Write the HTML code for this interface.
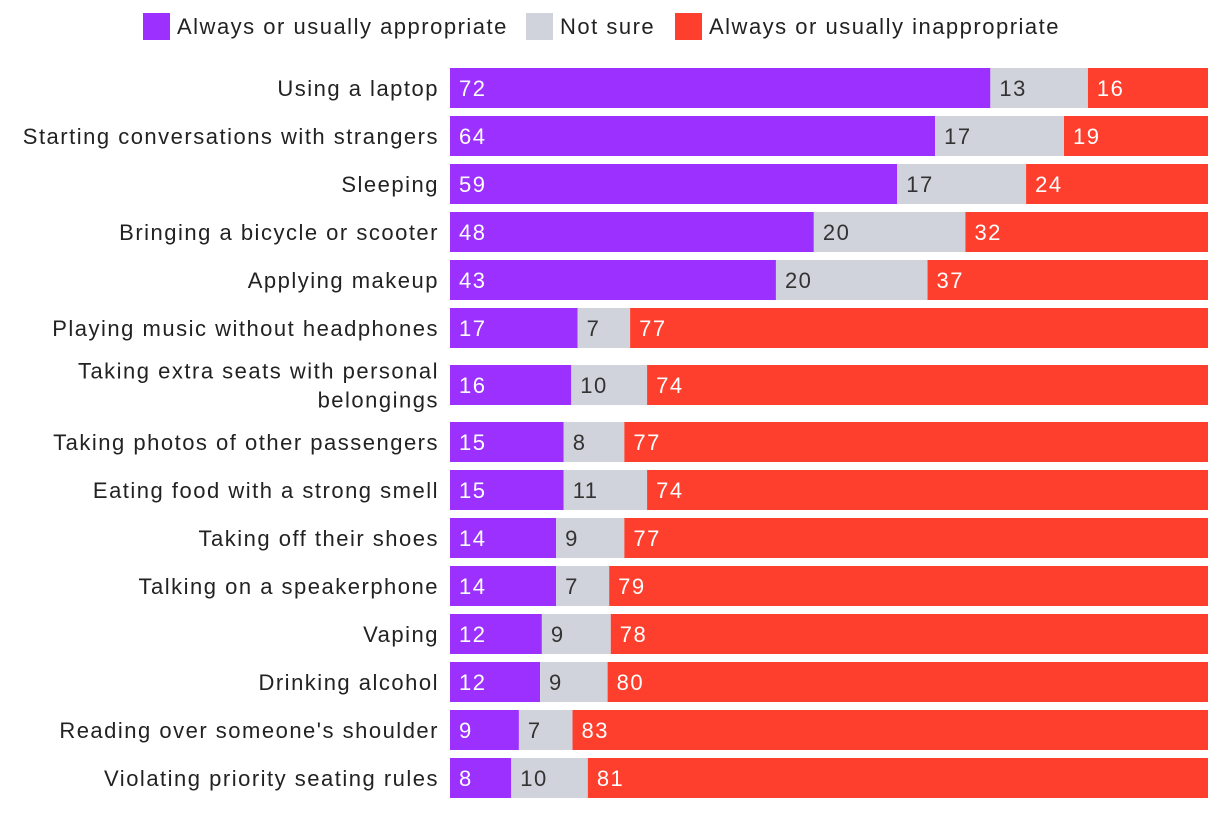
<!DOCTYPE html>
<html><head><meta charset="utf-8"><style>
body{margin:0;background:#fff;width:1220px;height:810px;overflow:hidden;font-family:"Liberation Sans",sans-serif}
svg text{font-family:"Liberation Sans",sans-serif;font-size:22px;letter-spacing:1.5px}
</style></head><body>
<svg id="chart" width="1220" height="810" xmlns="http://www.w3.org/2000/svg">
<g>
<g><rect x="143" y="13" width="27" height="27" fill="#9b30ff"/><text x="177" y="34" fill="#222">Always or usually appropriate</text></g>
<g><rect x="526" y="13" width="27" height="27" fill="#d1d3dc"/><text x="560" y="34" fill="#222">Not sure</text></g>
<g><rect x="675" y="13" width="27" height="27" fill="#ff3f2d"/><text x="709" y="34" fill="#222">Always or usually inappropriate</text></g>
</g>
<g id="bars"></g>
</svg>
<script>
const categories=[["Using a laptop"],["Starting conversations with strangers"],["Sleeping"],["Bringing a bicycle or scooter"],["Applying makeup"],["Playing music without headphones"],["Taking extra seats with personal","belongings"],["Taking photos of other passengers"],["Eating food with a strong smell"],["Taking off their shoes"],["Talking on a speakerphone"],["Vaping"],["Drinking alcohol"],["Reading over someone's shoulder"],["Violating priority seating rules"]];
const appropriate=[72,64,59,48,43,17,16,15,15,14,14,12,12,9,8];
const notSure=[13,17,17,20,20,7,10,8,11,9,7,9,9,7,10];
const inappropriate=[16,19,24,32,37,77,74,77,74,77,79,78,80,83,81];
const seriesNames=["appropriate","not-sure","inappropriate"];
const colors=["#9b30ff","#d1d3dc","#ff3f2d"];
const textColors=["#fff","#333","#fff"];
const x0=450,x1=1208,barH=40;
const g=document.getElementById('bars');
const NS="http://www.w3.org/2000/svg";
let cy=88;
categories.forEach((lab,i)=>{
  if(i>0){cy+=48+(lab.length>1?9:0)+(categories[i-1].length>1?9:0);}
  const vals=[appropriate[i],notSure[i],inappropriate[i]];
  const tot=vals.reduce((a,b)=>a+b,0);
  const row=document.createElementNS(NS,'g');
  
  
  g.appendChild(row);
  const t=document.createElementNS(NS,'text');
  
  
  t.setAttribute('x',439);t.setAttribute('text-anchor','end');t.setAttribute('fill','#222');
  lab.forEach((l,k)=>{const ts=document.createElementNS(NS,'tspan');ts.setAttribute('x',439);ts.setAttribute('y',cy+8+(k-(lab.length-1)/2)*29);ts.textContent=l;t.appendChild(ts);});
  row.appendChild(t);
  let x=x0;
  vals.forEach((v,s)=>{
    const w=v/tot*(x1-x0);
    const r=document.createElementNS(NS,'rect');
    
    
    r.setAttribute('x',x);r.setAttribute('y',cy-barH/2);r.setAttribute('width',w);r.setAttribute('height',barH);r.setAttribute('fill',colors[s]);
    row.appendChild(r);
    const vt=document.createElementNS(NS,'text');
    
    
    vt.setAttribute('x',x+9);vt.setAttribute('y',cy+8);vt.setAttribute('fill',textColors[s]);
    vt.textContent=v;row.appendChild(vt);
    x+=w;
  });
});
</script>
</body></html>
